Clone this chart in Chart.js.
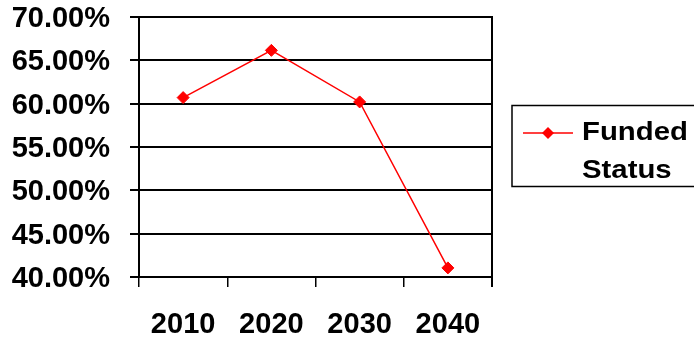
<!DOCTYPE html>
<html>
<head>
<meta charset="utf-8">
<title>Funded Status</title>
<script src="https://cdn.jsdelivr.net/npm/chart.js@4/dist/chart.umd.min.js"></script>
<style>
  html, body { margin: 0; padding: 0; background: #ffffff; }
  #wrap { width: 694px; height: 338px; position: relative; }
</style>
</head>
<body>
<div id="wrap"><canvas id="chart" width="694" height="338"></canvas></div>
<script>
// Funded status projection by decade
const years = ['2010', '2020', '2030', '2040'];
const fundedStatus = [60.70, 66.15, 60.20, 41.05];
const seriesLabel = ['Funded', 'Status'];
const yMin = 40, yMax = 70, yStep = 5;

const FONT = "'Liberation Sans', Arial, sans-serif";
const RED = '#ff0000';

// Boxed legend at the right, drawn from the dataset's own style
const boxLegend = {
  id: 'boxLegend',
  afterDraw(chart) {
    const ctx = chart.ctx;
    const ds = chart.data.datasets[0];
    ctx.save();
    ctx.strokeStyle = '#000';
    ctx.lineWidth = 1.5;
    ctx.strokeRect(512, 105.5, 190, 81);
    // sample line + marker
    ctx.strokeStyle = ds.borderColor;
    ctx.lineWidth = 1.5;
    ctx.beginPath();
    ctx.moveTo(523, 133);
    ctx.lineTo(573, 133);
    ctx.stroke();
    ctx.fillStyle = ds.pointBackgroundColor;
    ctx.beginPath();
    ctx.moveTo(548, 127); ctx.lineTo(554, 133); ctx.lineTo(548, 139); ctx.lineTo(542, 133);
    ctx.closePath();
    ctx.fill();
    // label text, slightly widened
    ctx.fillStyle = '#000';
    ctx.font = 'bold 25.5px ' + FONT;
    ctx.textBaseline = 'alphabetic';
    ctx.textAlign = 'left';
    const lines = Array.isArray(ds.label) ? ds.label : [ds.label];
    lines.forEach((t, i) => {
      ctx.save();
      ctx.translate(582, 139.5 + i * 38);
      ctx.scale(1.15, 1);
      ctx.fillText(t, 0, 0);
      ctx.restore();
    });
    ctx.restore();
  }
};

new Chart(document.getElementById('chart'), {
  type: 'line',
  data: {
    labels: years,
    datasets: [{
      label: seriesLabel,
      data: fundedStatus,
      borderColor: RED,
      backgroundColor: RED,
      pointBackgroundColor: RED,
      pointBorderColor: RED,
      borderWidth: 1.5,
      pointStyle: 'rectRot',
      pointRadius: 6,
      pointBorderWidth: 1,
      tension: 0,
      fill: false
    }]
  },
  options: {
    responsive: false,
    animation: false,
    devicePixelRatio: 1,
    layout: { padding: { top: 17, right: 202, bottom: 0, left: 0 } },
    plugins: {
      legend: { display: false },
      tooltip: { enabled: false }
    },
    scales: {
      x: {
        type: 'category',
        offset: true,
        border: { display: true, color: '#000', width: 2 },
        grid: {
          display: true,
          offset: true,
          drawOnChartArea: false,
          drawTicks: true,
          tickLength: 10,
          color: '#000',
          lineWidth: 1.5
        },
        ticks: {
          color: '#000',
          font: { family: FONT, size: 29, weight: 'bold' },
          padding: 21,
          maxRotation: 0
        },
        afterFit(scale) { scale.height = 61; }
      },
      y: {
        min: yMin,
        max: yMax,
        border: { display: true, color: '#000', width: 2 },
        grid: {
          color: '#000',
          lineWidth: 2,
          drawTicks: true,
          tickLength: 9
        },
        ticks: {
          stepSize: yStep,
          color: '#000',
          font: { family: FONT, size: 29, weight: 'bold' },
          padding: 20,
          labelOffset: 2,
          callback: v => v.toFixed(2) + '%'
        },
        afterFit(scale) {
          scale.width = 139;
          scale.paddingTop = 0;
          scale.paddingBottom = 0;
        }
      }
    }
  },
  plugins: [boxLegend, {
    id: 'rightBorder',
    afterDraw(chart) {
      const {ctx, chartArea} = chart;
      ctx.save();
      ctx.strokeStyle = '#000';
      ctx.lineWidth = 2;
      ctx.beginPath();
      ctx.moveTo(chartArea.right, chartArea.top - 1);
      ctx.lineTo(chartArea.right, chartArea.bottom + 10);
      ctx.stroke();
      ctx.restore();
    }
  }]
});
</script>
</body>
</html>
